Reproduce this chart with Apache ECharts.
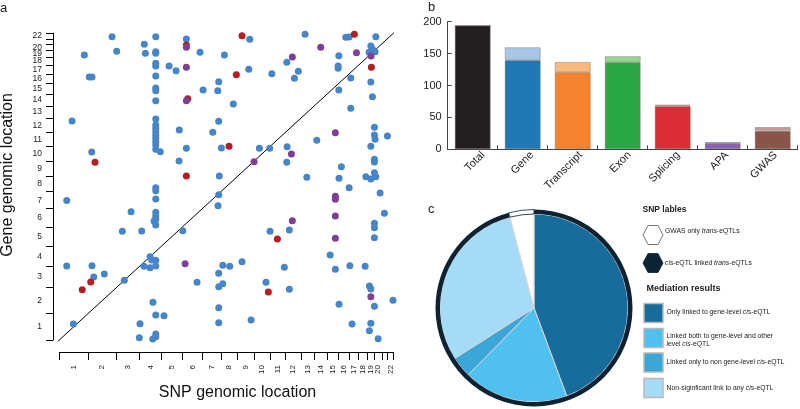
<!DOCTYPE html>
<html><head><meta charset="utf-8">
<script src="https://cdn.jsdelivr.net/npm/echarts@6.0.0/dist/echarts.min.js"></script>
<style>html,body{margin:0;padding:0;background:#fff}#c{width:800px;height:409px}</style>
</head><body><div id="c"></div>
<script>
// ---- Panel a: chromosomes and trans-eQTL positions (cumulative Mb) ----
const chromosomes = ['1','2','3','4','5','6','7','8','9','10','11','12','13','14','15','16','17','18','19','20','21','22'];
const chromLengthsMb = [249.25,243.2,198.0,191.15,180.9,171.1,159.1,146.4,141.2,135.5,135.0,133.85,115.2,107.35,102.5,90.35,81.2,78.1,59.1,63.0,48.1,51.3];
const bluePoints = [[455,2849],[495,2712],[216,2677],[259,2470],[282,2470],[110,2057],[280,1766],[64,1310],[733,2777],[742,2693],
[832,2849],[832,2708],[832,2693],[832,2599],[832,2574],[832,2480],[832,2367],[832,2342],[832,2248],[832,2076],[832,2019],[832,1988],[832,1957],[832,1926],[832,1895],[832,1863],[832,1832],[832,1791],[832,1431],[832,1402],
[871,1769],[947,2574],[1007,2530],[1035,1973],[1033,1681],[1096,2827],[1096,1801],[1214,2702],[1424,2677],[1643,2824],[1634,2543],[1375,2426],[1240,2348],[1367,2342],[1501,2217],[1375,2054],[1324,1951],[1398,1803],[1380,1540],[1375,1365],[1726,1801],[1815,1801],[1833,2501],[1962,2608],[2062,2524],[2028,2458],[2120,2871],[1965,1816],[1962,1669],[2135,1528],[2221,1876],[2411,2670],[2405,2574],[2405,2552],[2411,2348],[2471,2843],[2500,2846],[2514,2461],[2514,2176],[2433,1628],[2413,1519],[2500,1431],[2730,2849],[2687,2762],[2701,2731],[2724,2708],[2672,2702],[2687,2423],[2701,2285],[2718,1998],[2718,1926],[2724,1885],[2830,1916],[2687,1819],[2718,1697],[2718,1672],[2644,1534],[2687,1512],[2730,1534],[2718,1571],[2767,1381],
[1369,1261],[1065,1027],[1188,542],[1410,702],[1470,692],[1375,627],[1375,501],[1410,529],[1576,735],[1375,303],[1375,162],[1654,188],[1818,1021],[1984,1033],[1941,683],[1783,542],[1984,476],[2336,798],[2381,664],[2506,698],[2638,692],[2804,1190],[2718,1096],[2718,1055],[2718,961],[2675,507],[2687,479],[2718,317],[2878,373],[2413,335],[2525,150],[2687,157],[2675,87],[2750,12],
[64,695],[121,150],[282,698],[297,592],[388,620],[561,561],[544,1021],[619,1205],[711,1024],[832,1324],[832,1199],[832,1165],[832,1134],[817,1118],[832,1080],[783,782],[731,692],[783,679],[832,695],[832,749],[797,751],[808,354],[832,235],[903,228],[696,153],[690,22],[806,9],[832,31],[832,56]];
const redPoints = [[308,1669],[1096,2771],[1108,2267],[1096,1540],[1576,2858],[1527,2492],[1464,1819],[2545,2871],[2692,2561],[1881,949],[1803,451],[198,472],[271,545]];
const purplePoints = [[1096,2749],[1096,2561],[1096,2248],[1680,1675],[2010,2658],[2002,1747],[2255,2749],[2381,1947],[2381,1350],[2381,1322],[2563,2699],[2689,2668],[1085,717],[2010,1121],[2381,1165],[2381,955],[2687,407]];
const diagonalEnds = [[-45,-45],[2990,2990]];

// ---- Panel b ----
const barCategories = ['Total','Gene','Transcript','Exon','Splicing','APA','GWAS'];
const barBaseValues = [194,140,121,137,68,10,29];
const barExtraValues = [0,20,16,9,2,1,6];
const barBaseColors = ['#231f20','#1f77b4','#f5822f','#2aa845','#dc2c35','#8b62b0','#8a5448'];
const barExtraColors = ['#231f20','#a9c6e6','#fbb97b','#95d98a','#f59a9a','#c3afd6','#c49c94'];

// ---- Panel c ----
const pieLabels = ['Only linked to gene-level cis-eQTL','Linked both to gene-level and other level cis-eQTL','Linked only to non gene-level cis-eQTL','Non-siginficant link to any cis-eQTL','GWAS only trans-eQTLs'];
const pieValues = [86,35,7,58,8];
const pieColors = ['#176c9b','#50c0ee','#3ca6d7','#a6dbf7','#ffffff'];
const ringLabels = ['cis-eQTL linked trans-eQTLs','GWAS only trans-eQTLs'];
const ringValues = [186,8];

// derived genome axis positions
const bounds=[0], mids=[];
let acc=0;
chromLengthsMb.forEach(l=>{mids.push(acc+l/2); acc+=l; bounds.push(acc);});
const genomeTotal=acc;
function chrLabel(v){let b=0,bd=1e9;mids.forEach((m,i)=>{const d=Math.abs(m-v);if(d<bd){bd=d;b=i;}});return chromosomes[b];}

const FF='"Liberation Sans", Arial, sans-serif';
const chart=echarts.init(document.getElementById('c'),null,{renderer:'canvas'});

function txt(x,y,text,size,opts){
  opts=opts||{};
  return {type:'text',x:x,y:y,rotation:opts.rotation||0,silent:true,z:100,
    style:{text:text,fontSize:size,fontFamily:FF,fontWeight:opts.bold?'bold':'normal',fill:opts.fill||'#222',
      align:opts.align||'left',textAlign:opts.align||'left',verticalAlign:'middle',textVerticalAlign:'middle',
      rich:{i:{fontStyle:'italic',fontSize:size,fontFamily:FF,fill:opts.fill||'#222'}}}};
}
const hexW=[[643,235],[648,225.5],[658,225.5],[663,235],[658,244.5],[648,244.5]];
const hexD=hexW.map(p=>[p[0],p[1]+28]);
const sqY=[303.5,328.5,353,378.5];
const legendSquareColors=[pieColors[0],pieColors[1],pieColors[2],pieColors[3]];

const graphic=[
  txt(0,8,'a',13),txt(428,7,'b',13),txt(428,209,'c',13),
  txt(8,175,'Gene genomic location',16,{align:'center',rotation:Math.PI/2,fill:'#111'}),
  txt(237.5,393,'SNP genomic location',16,{align:'center',fill:'#111'}),
  txt(642.5,209.5,'SNP lables',8.5,{bold:true}),
  {type:'polygon',shape:{points:hexW},style:{fill:'#fff',stroke:'#555',lineWidth:0.8},silent:true},
  {type:'polygon',shape:{points:hexD},style:{fill:'#0d2333',stroke:'#0d2333',lineWidth:0.8},silent:true},
  txt(665,231,'GWAS only {i|trans}-eQTLs',6.8),
  txt(665,263,'{i|cis}-eQTL linked {i|trans}-eQTLs',6.8),
  txt(646.5,288.5,'Mediation results',9,{bold:true}),
  txt(666.5,312,'Only linked to gene-level {i|cis}-eQTL',6.8),
  txt(666.5,336.5,'Linked both to gene-level and other',6.8),
  txt(666.5,344.5,'level {i|cis}-eQTL',6.8),
  txt(666.5,362.5,'Linked only to non gene-level {i|cis}-eQTL',6.8),
  txt(666.5,388,'Non-siginficant link to any {i|cis}-eQTL',6.8)
];
sqY.forEach((y,i)=>graphic.push({type:'rect',shape:{x:644,y:y,width:19,height:19},style:{fill:legendSquareColors[i],stroke:'#b8b8b8',lineWidth:1.5},silent:true}));

const option={
  animation:false,
  textStyle:{fontFamily:FF},
  grid:[
    {left:59.3,width:334,top:33.3,height:306.7},
    {left:447.7,width:350,top:21.7,height:127.6},
    {left:458.7,width:350,top:21.7,height:127.6}
  ],
  xAxis:[
    {gridIndex:0,type:'value',min:0,max:genomeTotal,offset:12,
     axisLine:{show:true,onZero:false,lineStyle:{color:'#000',width:1}},
     axisTick:{show:true,customValues:bounds,length:8,inside:false,lineStyle:{color:'#000',width:1}},
     axisLabel:{customValues:mids,formatter:v=>chrLabel(v),rotate:90,fontSize:8,margin:13,color:'#222',fontFamily:FF,hideOverlap:false,showMinLabel:true,showMaxLabel:true},
     splitLine:{show:false}},
    {gridIndex:1,type:'category',data:barCategories,
     axisLine:{show:true,lineStyle:{color:'#444',width:1}},
     axisTick:{show:true,inside:true,length:4,interval:0,alignWithLabel:false,lineStyle:{color:'#444'}},
     axisLabel:{show:false},
     splitLine:{show:false}},
    {gridIndex:2,type:'category',data:barCategories,
     axisLine:{show:false},axisTick:{show:false},
     axisLabel:{rotate:45,fontSize:11,interval:0,margin:4,color:'#222',fontFamily:FF},
     splitLine:{show:false}}
  ],
  yAxis:[
    {gridIndex:0,type:'value',min:0,max:genomeTotal,offset:6.3,
     axisLine:{show:true,onZero:false,lineStyle:{color:'#000',width:1}},
     axisTick:{show:true,customValues:bounds,length:7,inside:false,lineStyle:{color:'#000',width:1}},
     axisLabel:{customValues:mids,formatter:v=>chrLabel(v),fontSize:8.5,margin:11,color:'#222',fontFamily:FF,hideOverlap:false,showMinLabel:true,showMaxLabel:true},
     splitLine:{show:false}},
    {gridIndex:1,type:'value',min:0,max:200,interval:50,
     axisLine:{show:true,lineStyle:{color:'#444',width:1}},
     axisTick:{show:true,inside:true,length:4,lineStyle:{color:'#444'}},
     axisLabel:{fontSize:11,margin:6,color:'#222',fontFamily:FF},
     splitLine:{show:false}},
    {gridIndex:2,type:'value',min:0,max:200,show:false}
  ],
  series:[
    {type:'line',xAxisIndex:0,yAxisIndex:0,data:diagonalEnds,symbol:'none',clip:false,silent:true,
     lineStyle:{color:'#000',width:1},z:1},
    {type:'scatter',xAxisIndex:0,yAxisIndex:0,data:bluePoints,symbolSize:7,clip:false,silent:true,itemStyle:{color:'#4686c8',opacity:1},z:2},
    {type:'scatter',xAxisIndex:0,yAxisIndex:0,data:redPoints,symbolSize:7,clip:false,silent:true,itemStyle:{color:'#b41e25',opacity:1},z:3},
    {type:'scatter',xAxisIndex:0,yAxisIndex:0,data:purplePoints,symbolSize:7,clip:false,silent:true,itemStyle:{color:'#7e3f97',opacity:1},z:4},
    {type:'bar',xAxisIndex:1,yAxisIndex:1,stack:'b',barWidth:36,silent:true,
     data:barBaseValues.map((v,i)=>({value:v,itemStyle:{color:barBaseColors[i]}})),
     itemStyle:{borderColor:'rgba(110,110,110,0.45)',borderWidth:1}},
    {type:'bar',xAxisIndex:1,yAxisIndex:1,stack:'b',barWidth:36,silent:true,
     data:barExtraValues.map((v,i)=>({value:v,itemStyle:{color:barExtraColors[i]}})),
     itemStyle:{borderColor:'rgba(110,110,110,0.45)',borderWidth:1}},
    {type:'pie',center:[534,308],radius:[0,94],startAngle:90,clockwise:true,silent:true,
     label:{show:false},labelLine:{show:false},
     itemStyle:{borderColor:'#d5d5d5',borderWidth:1},
     data:pieValues.map((v,i)=>({name:pieLabels[i],value:v,itemStyle:{color:pieColors[i]}}))},
    {type:'pie',center:[534,308],radius:[94,98.5],startAngle:90,clockwise:true,silent:true,
     label:{show:false},labelLine:{show:false},
     data:[{name:ringLabels[0],value:ringValues[0],itemStyle:{color:'#0d2333'}},
           {name:ringLabels[1],value:ringValues[1],itemStyle:{color:'#ffffff',borderColor:'#0d2333',borderWidth:0.8}}]}
  ],
  graphic:graphic
};
chart.setOption(option);
</script></body></html>
